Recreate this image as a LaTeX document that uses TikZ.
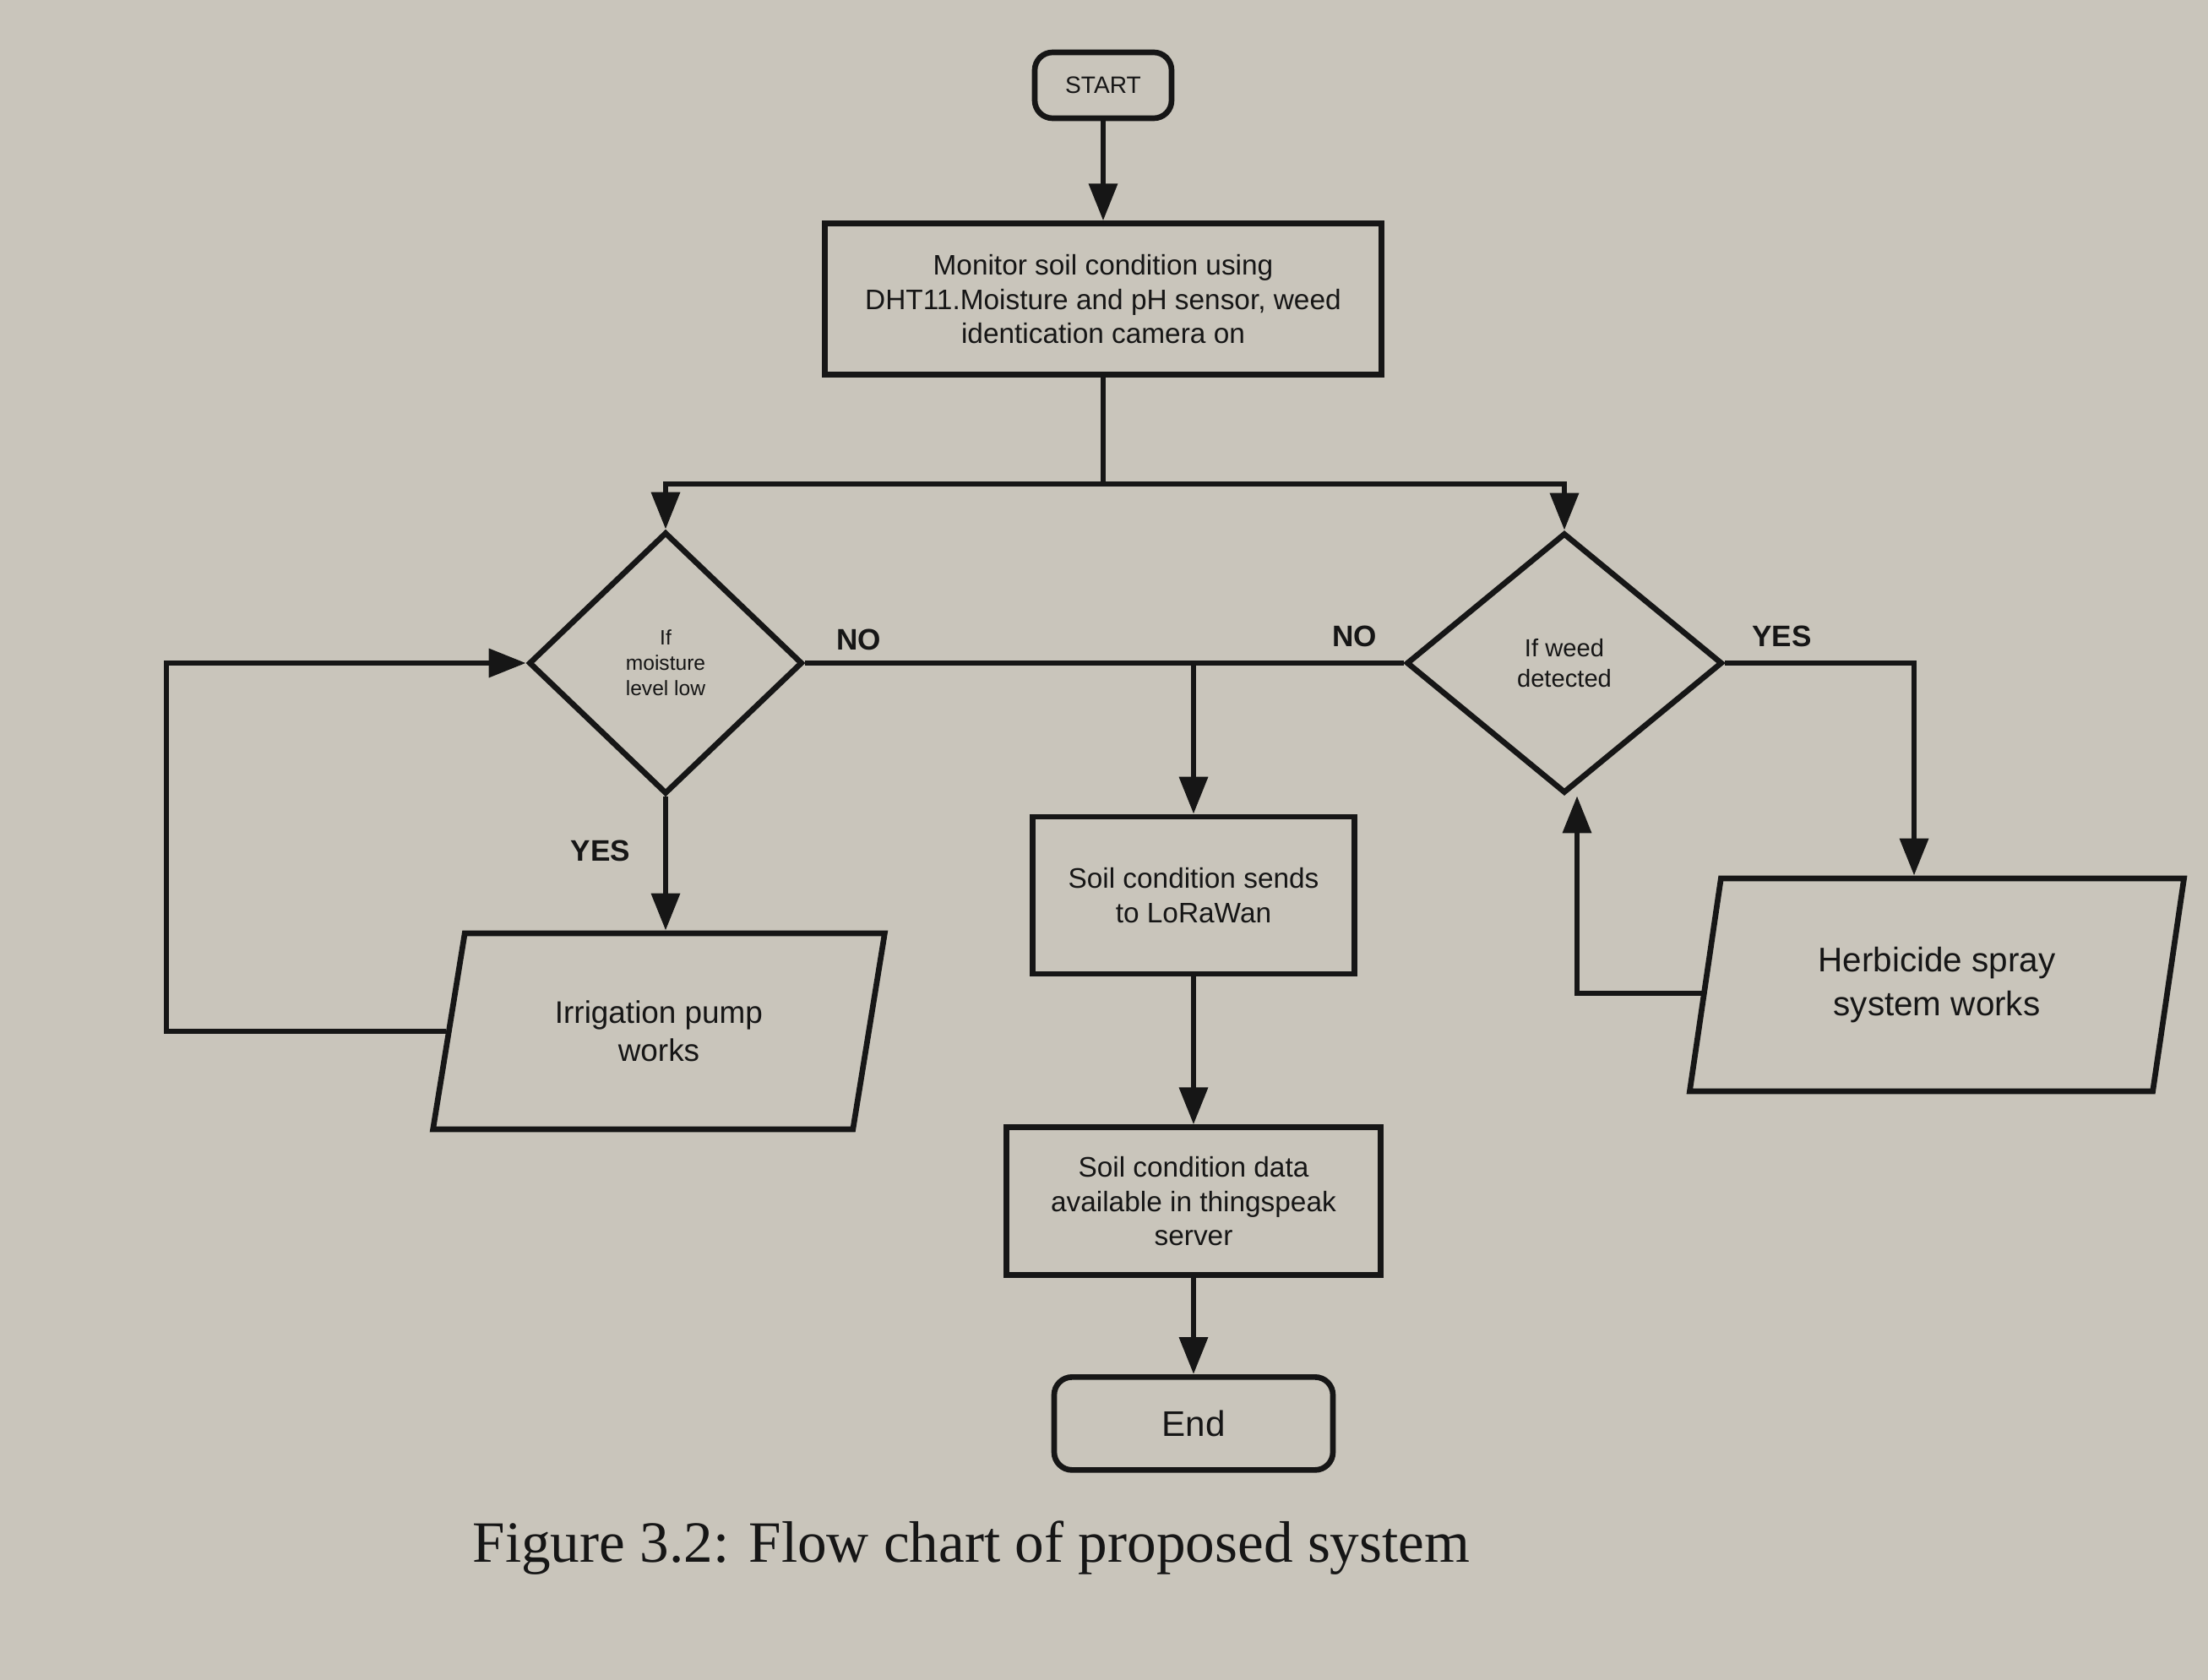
\documentclass[tikz,border=0pt]{standalone}
\usepackage{fontspec}
\setmainfont{Liberation Serif}
\newfontfamily\arial{Liberation Sans}
\usepackage{tikz}
\usetikzlibrary{arrows.meta,positioning,shapes.geometric}
\definecolor{papel}{RGB}{201,197,187}
\definecolor{tinta}{RGB}{22,22,22}

\begin{document}
\begin{tikzpicture}[
    color=tinta, line width=1.9pt,
    node distance=1.2cm,
    bloco/.style={draw, align=center, font=\arial\fontsize{9.5}{11.5}\selectfont},
    terminal/.style={bloco, rounded corners=6pt},
    decisao/.style={draw, diamond, align=center, inner sep=0pt},
    dados/.style={draw, trapezium, trapezium stretches=true, align=center},
    rotulo/.style={font=\arial\bfseries\fontsize{10}{12}\selectfont, inner sep=1pt},
    seta/.style={-{Triangle[length=4.4mm, width=3.3mm]}}
  ]
    \fill[papel] (0,0) rectangle (26.14,-19.89);
    \useasboundingbox (0,0) rectangle (26.14,-19.89);

    \node[terminal, minimum width=1.62cm, minimum height=0.78cm, font=\arial\fontsize{8}{10}\selectfont] (start) at (13.06,-1.01) {START};
    \node[bloco, minimum width=6.59cm, minimum height=1.79cm, below=1.18cm of start] (monitor) {Monitor soil condition using\\DHT11.Moisture and pH sensor, weed\\identication camera on};
    \node[decisao, minimum width=3.24cm, minimum height=3.10cm, font=\arial\fontsize{7}{8.5}\selectfont] (moist) at (7.88,-7.85) {If\\moisture\\level low};
    \node[decisao, minimum width=3.74cm, minimum height=3.08cm, font=\arial\fontsize{8.3}{10.4}\selectfont] (weed) at (18.52,-7.85) {If weed\\detected};
    \node[bloco, minimum width=3.81cm, minimum height=1.86cm] (send) at (14.13,-10.60) {Soil condition sends\\to LoRaWan};
    \node[bloco, minimum width=4.43cm, minimum height=1.75cm, below=1.75cm of send] (data) {Soil condition data\\available in thingspeak\\server};
    \node[terminal, minimum width=3.30cm, minimum height=1.10cm, font=\arial\fontsize{12}{14}\selectfont, below=1.14cm of data] (stop) {End};
    \node[dados, trapezium left angle=77, trapezium right angle=103, minimum width=5.35cm, minimum height=2.32cm, font=\arial\fontsize{10.5}{12.8}\selectfont] (pump) at (7.80,-12.21) {Irrigation pump\\works};
    \node[dados, trapezium left angle=79, trapezium right angle=101, minimum width=5.91cm, minimum height=2.52cm, font=\arial\fontsize{11.5}{14.8}\selectfont] (spray) at (22.93,-11.66) {Herbicide spray\\system works};
    \coordinate (volta) at (1.97,-12.25);

    % labels of the branches
    \node[rotulo, above right=0.08cm and 0.3cm of moist.east] (noleft) {NO};
    \node[rotulo, above left=0.12cm and 0.25cm of weed.west] (noright) {NO};
    \node[rotulo, above right=0.12cm and 0.25cm of weed.east] (yesright) {YES};
    \node[rotulo, below left=0.45cm and 0.35cm of moist.south] (yesleft) {YES};

    \draw[seta] (start) -- (monitor);
    \draw[seta] (monitor.south) -- ++(0,-1.26) -| (moist.north);
    \draw[seta] (monitor.south) -- ++(0,-1.26) -| (weed.north);
    \draw (moist.east) -- (weed.west);
    \draw[seta] (send.north |- moist.east) -- (send.north);
    \draw[seta] (moist.south) -- (moist.south |- pump.north);
    \draw[seta] (weed.east) -| ([xshift=-2.7mm]spray.north);
    \draw[seta] ([yshift=-0.1cm]spray.west) -| ([xshift=0.15cm]weed.south);
    \draw[seta] (pump.west) -- (volta |- pump.west) |- (moist.west);
    \draw[seta] (send) -- (data);
    \draw[seta] (data) -- (stop);

    \node[font=\fontsize{19.7}{24}\selectfont] (legenda) at (11.50,-18.33) {Figure 3.2: Flow chart of proposed system};
  \end{tikzpicture}
\end{document}
